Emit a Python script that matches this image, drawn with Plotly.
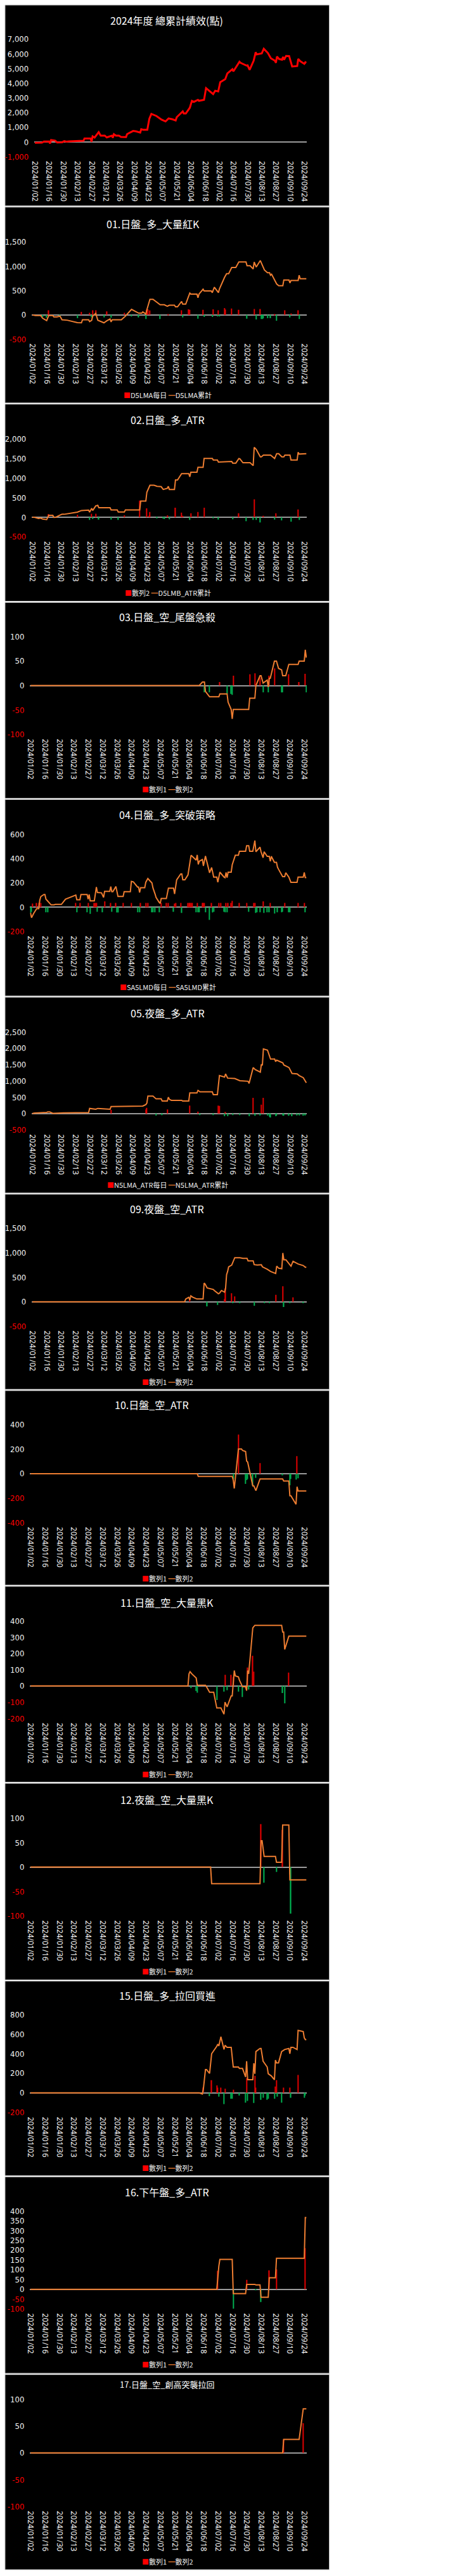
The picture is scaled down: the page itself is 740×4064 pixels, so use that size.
import plotly.graph_objects as go

W, H = 740, 4064
DAY_MS = 86400000

# ---------------- tick labels ----------------
TICK_DATES = ["2024-01-02", "2024-01-16", "2024-01-30", "2024-02-13", "2024-02-27",
              "2024-03-12", "2024-03-26", "2024-04-09", "2024-04-23", "2024-05-07",
              "2024-05-21", "2024-06-04", "2024-06-18", "2024-07-02", "2024-07-16",
              "2024-07-30", "2024-08-13", "2024-08-27", "2024-09-10", "2024-09-24"]
TICK_TEXT = [d.replace("-", "/") for d in TICK_DATES]

# ---------------- data (MM-DD, value) ----------------
P0_LINE = [("01-02", -60), ("01-09", -50), ("01-11", 30), ("01-16", 30), ("01-17", -100), ("01-18", 130),
           ("01-22", 90), ("01-24", -30), ("01-29", -20), ("01-31", 60), ("02-02", 20), ("02-05", 40),
           ("02-19", 80), ("02-20", 230), ("02-26", 230), ("02-27", 20), ("02-28", 380), ("03-01", 300),
           ("03-05", 670), ("03-07", 430), ("03-11", 430), ("03-13", 310), ("03-18", 430), ("03-19", 290),
           ("03-20", 530), ("03-22", 430), ("03-25", 430), ("03-27", 340), ("04-01", 330), ("04-02", 530),
           ("04-03", 570), ("04-08", 750), ("04-11", 720), ("04-15", 640), ("04-16", 870), ("04-18", 830),
           ("04-22", 830), ("04-24", 1580), ("04-26", 1910), ("05-01", 1770), ("05-06", 1520), ("05-10", 1400),
           ("05-13", 1600), ("05-17", 1540), ("05-20", 1460), ("05-21", 1680), ("05-27", 2080), ("05-28", 1940),
           ("05-30", 1940), ("06-03", 2330), ("06-05", 2800), ("06-07", 2730), ("06-11", 2870), ("06-12", 2800),
           ("06-17", 2870), ("06-19", 3660), ("06-26", 3260), ("06-28", 3490), ("07-01", 3440), ("07-03", 4070),
           ("07-08", 4280), ("07-10", 4670), ("07-15", 4960), ("07-16", 4810), ("07-22", 5460), ("07-23", 5390),
           ("07-29", 5200), ("07-30", 5220), ("08-01", 4910), ("08-05", 5530), ("08-07", 6110), ("08-08", 5960),
           ("08-13", 6030), ("08-15", 6350), ("08-19", 6060), ("08-22", 5700), ("08-26", 5530), ("08-27", 5390),
           ("08-28", 5820), ("08-30", 5650), ("09-02", 5600), ("09-03", 5790), ("09-04", 5600), ("09-06", 5860),
           ("09-09", 5850), ("09-12", 5140), ("09-17", 5170), ("09-18", 5650), ("09-20", 5500), ("09-23", 5390),
           ("09-24", 5320), ("09-25", 5430), ("09-26", 5390)]

P1_LINE = [("01-02", 0), ("01-05", -13), ("01-10", -13), ("01-12", -69), ("01-16", -120), ("01-18", -13),
           ("01-22", -13), ("01-23", -43), ("01-26", -43), ("01-29", -26), ("01-31", -103), ("02-02", -103),
           ("02-05", -110), ("02-15", -160), ("02-19", -164), ("02-20", -103), ("02-26", -103), ("02-27", -138),
           ("02-29", -112), ("03-01", -26), ("03-04", 30), ("03-06", -112), ("03-12", -164), ("03-15", -120),
           ("03-18", -86), ("03-19", -146), ("03-20", -103), ("03-29", -103), ("04-02", -26), ("04-08", 112),
           ("04-11", 82), ("04-15", 34), ("04-18", 34), ("04-19", 60), ("04-22", 17), ("04-23", 103),
           ("04-26", 319), ("04-29", 319), ("05-06", 207), ("05-10", 207), ("05-13", 177), ("05-15", 198),
           ("05-20", 198), ("05-21", 164), ("05-23", 164), ("05-27", 276), ("05-28", 220), ("05-31", 220),
           ("06-04", 448), ("06-05", 427), ("06-11", 427), ("06-12", 353), ("06-13", 427), ("06-17", 526),
           ("06-18", 491), ("06-25", 491), ("06-26", 457), ("06-28", 569), ("07-02", 457), ("07-03", 534),
           ("07-08", 771), ("07-10", 845), ("07-12", 845), ("07-15", 974), ("07-19", 974), ("07-22", 1086),
           ("07-29", 1086), ("07-30", 1009), ("08-02", 1009), ("08-05", 944), ("08-06", 1086), ("08-08", 983),
           ("08-12", 1116), ("08-16", 922), ("08-19", 866), ("08-21", 866), ("08-22", 815), ("08-23", 836),
           ("08-28", 634), ("08-30", 599), ("09-03", 599), ("09-04", 715), ("09-09", 715), ("09-10", 655),
           ("09-11", 707), ("09-18", 707), ("09-19", 815), ("09-20", 741), ("09-26", 741)]
P1_BARS = [("01-18", 95), ("02-19", 60), ("02-27", 40), ("03-01", 95), ("03-04", 95), ("03-15", 70),
           ("04-01", 43), ("04-23", 103), ("04-24", 112), ("04-26", 90), ("05-14", 17), ("05-27", 95),
           ("06-03", 112), ("06-04", 103), ("06-17", 103), ("06-27", 112), ("07-02", 95), ("07-08", 138),
           ("07-09", 110), ("07-15", 129), ("07-22", 103), ("08-06", 121), ("08-12", 121), ("08-26", 17),
           ("09-05", 95), ("09-11", 30), ("09-18", 95),
           ("01-12", -47), ("01-16", -60), ("01-29", -20), ("02-15", -69), ("02-29", -50), ("03-12", -52),
           ("03-19", -60), ("04-08", -35), ("04-15", -52), ("04-22", -86), ("05-06", -86), ("05-28", -52),
           ("06-12", -78), ("06-18", -43), ("06-26", -43), ("07-01", -35), ("07-03", -35), ("07-30", -78),
           ("08-08", -95), ("08-13", -86), ("08-14", -86), ("08-15", -69), ("08-19", -69), ("08-22", -69),
           ("08-28", -120), ("09-10", -52), ("09-19", -86)]

P2_LINE = [("01-02", 0), ("01-04", 0), ("01-08", -32), ("01-10", -20), ("01-12", -43), ("01-16", -59),
           ("01-18", 48), ("01-22", 48), ("01-23", -5), ("01-25", 0), ("01-29", 54), ("01-31", 75),
           ("02-02", 75), ("02-15", 129), ("02-19", 172), ("02-26", 183), ("02-27", 129), ("02-29", 226),
           ("03-01", 172), ("03-04", 290), ("03-06", 306), ("03-07", 242), ("03-18", 242), ("03-19", 188),
           ("03-25", 188), ("03-26", 134), ("04-01", 134), ("04-02", 188), ("04-16", 188), ("04-17", 414),
           ("04-22", 414), ("04-23", 640), ("04-26", 817), ("04-30", 817), ("05-03", 790), ("05-07", 780),
           ("05-09", 710), ("05-13", 737), ("05-14", 790), ("05-15", 710), ("05-20", 710), ("05-21", 950),
           ("05-23", 950), ("05-27", 1113), ("06-03", 1113), ("06-04", 1032), ("06-05", 1150), ("06-11", 1150),
           ("06-12", 1274), ("06-17", 1274), ("06-18", 1500), ("06-26", 1500), ("06-27", 1462), ("07-01", 1462),
           ("07-02", 1409), ("07-15", 1425), ("07-16", 1382), ("07-19", 1382), ("07-22", 1500), ("07-23", 1490),
           ("07-26", 1392), ("08-02", 1392), ("08-05", 1317), ("08-06", 1785), ("08-08", 1731), ("08-09", 1677),
           ("08-12", 1543), ("08-13", 1543), ("08-15", 1586), ("08-22", 1586), ("08-26", 1500), ("08-28", 1624),
           ("08-30", 1624), ("09-02", 1543), ("09-04", 1543), ("09-05", 1586), ("09-10", 1586), ("09-11", 1462),
           ("09-17", 1462), ("09-18", 1661), ("09-19", 1613), ("09-26", 1624)]
P2_BARS = [("01-18", 80), ("02-15", 65), ("02-29", 90), ("03-04", 90), ("04-01", 48), ("04-16", 425),
           ("04-23", 226), ("04-25", 38), ("04-26", 134), ("05-13", 48), ("05-21", 242), ("05-27", 118),
           ("05-28", 38), ("06-05", 102), ("06-12", 134), ("06-18", 242), ("07-22", 102), ("08-06", 457),
           ("08-15", 38), ("08-27", 102), ("09-18", 199),
           ("02-27", -70), ("03-01", -43), ("03-07", -59), ("03-19", -59), ("03-26", -70), ("05-03", -27),
           ("05-09", -32), ("05-10", -43), ("05-15", -54), ("06-04", -70), ("06-27", -27), ("07-02", -59),
           ("07-16", -54), ("07-29", -102), ("08-05", -70), ("08-08", -70), ("08-12", -134), ("08-26", -59),
           ("09-02", -80), ("09-11", -113), ("09-19", -70)]

P3_LINE = [("01-02", 0), ("06-14", 0), ("06-17", 7), ("06-19", 7), ("06-20", -12), ("06-24", -23),
           ("07-03", -23), ("07-04", -17), ("07-11", -17), ("07-12", -34), ("07-15", -49), ("07-16", -68),
           ("07-17", -49), ("08-01", -49), ("08-02", -26), ("08-07", -26), ("08-08", 0), ("08-12", 20),
           ("08-13", 20), ("08-15", 5), ("08-19", 11), ("08-20", -3), ("08-21", 15), ("08-22", 15),
           ("08-26", 50), ("08-28", 50), ("08-30", 35), ("09-02", 32), ("09-03", 20), ("09-06", 20),
           ("09-09", 43), ("09-18", 43), ("09-19", 50), ("09-24", 50), ("09-25", 73), ("09-26", 57)]
P3_BARS = [("07-04", 7), ("07-17", 20), ("08-02", 23), ("08-07", 25), ("08-12", 16), ("08-21", 20),
           ("08-26", 35), ("09-09", 23), ("09-19", 7), ("09-25", 24),
           ("06-19", -14), ("06-24", -14), ("07-11", -17), ("07-15", -17), ("07-16", -19), ("08-15", -14),
           ("08-20", -14), ("09-02", -14), ("09-03", -14), ("09-26", -14)]

P4_LINE = [("01-02", -47), ("01-03", -87), ("01-05", -52), ("01-07", -24), ("01-08", -12), ("01-10", -12),
           ("01-11", 57), ("01-12", 87), ("01-15", 104), ("01-16", 104), ("01-17", 66), ("01-18", 57),
           ("01-22", 19), ("01-25", 19), ("01-26", 23), ("02-01", 23), ("02-05", 66), ("02-15", 100),
           ("02-16", 61), ("02-19", 61), ("02-20", 104), ("02-26", 104), ("02-27", 66), ("02-28", 104),
           ("02-29", 52), ("03-04", 52), ("03-06", 166), ("03-07", 121), ("03-11", 118), ("03-13", 80),
           ("03-14", 130), ("03-19", 130), ("03-20", 170), ("03-21", 127), ("03-22", 127), ("03-25", 170),
           ("03-27", 88), ("04-01", 88), ("04-02", 127), ("04-08", 127), ("04-09", 212), ("04-11", 208),
           ("04-15", 166), ("04-16", 166), ("04-17", 121), ("04-18", 160), ("04-22", 160), ("04-23", 205),
           ("04-25", 236), ("04-29", 199), ("04-30", 158), ("05-02", 109), ("05-03", 80), ("05-06", 40),
           ("05-07", 31), ("05-08", 71), ("05-13", 71), ("05-14", 114), ("05-15", 156), ("05-20", 156),
           ("05-21", 109), ("05-23", 225), ("05-27", 274), ("05-28", 274), ("05-29", 225), ("05-31", 225),
           ("06-03", 265), ("06-06", 427), ("06-11", 387), ("06-12", 430), ("06-13", 352), ("06-14", 378),
           ("06-17", 392), ("06-18", 340), ("06-20", 421), ("06-24", 283), ("06-26", 326), ("06-28", 248),
           ("07-01", 248), ("07-02", 205), ("07-04", 288), ("07-08", 248), ("07-09", 243), ("07-10", 286),
           ("07-11", 243), ("07-12", 288), ("07-15", 288), ("07-16", 349), ("07-19", 427), ("07-22", 427),
           ("07-23", 460), ("07-29", 460), ("07-30", 505), ("08-01", 505), ("08-02", 460), ("08-05", 460),
           ("08-07", 548), ("08-08", 456), ("08-12", 494), ("08-13", 456), ("08-15", 407), ("08-16", 456),
           ("08-19", 418), ("08-21", 418), ("08-22", 378), ("08-23", 418), ("08-26", 369), ("08-28", 369),
           ("08-29", 329), ("08-30", 312), ("09-03", 251), ("09-05", 251), ("09-06", 283), ("09-09", 248),
           ("09-11", 205), ("09-17", 205), ("09-18", 248), ("09-23", 248), ("09-24", 286), ("09-25", 243),
           ("09-26", 243)]
P4_BARS = [("01-04", 30), ("01-08", 35), ("01-10", 35), ("01-12", 35), ("02-15", 35), ("02-19", 35),
           ("02-27", 35), ("03-04", 35), ("03-05", 35), ("03-06", 35), ("03-14", 48), ("03-20", 35),
           ("03-25", 35), ("04-01", 35), ("04-09", 35), ("04-18", 35), ("04-23", 35), ("04-25", 35),
           ("05-08", 35), ("05-13", 35), ("05-15", 35), ("05-21", 30), ("05-22", 35), ("05-27", 35),
           ("06-03", 35), ("06-04", 35), ("06-05", 35), ("06-06", 35), ("06-07", 35), ("06-12", 35),
           ("06-17", 35), ("06-18", 35), ("06-19", 35), ("06-26", 35), ("07-03", 35), ("07-05", 35),
           ("07-10", 35), ("07-12", 35), ("07-15", 35), ("07-16", 52), ("07-23", 35), ("07-30", 35),
           ("08-06", 35), ("08-07", 35), ("08-15", 48), ("08-22", 35), ("09-05", 35), ("09-18", 35),
           ("09-24", 35),
           ("01-02", -47), ("01-03", -38), ("01-17", -42), ("01-19", -42), ("02-16", -42), ("02-26", -42),
           ("02-29", -55), ("03-07", -38), ("03-12", -42), ("03-21", -38), ("03-26", -43), ("03-27", -43),
           ("04-15", -42), ("04-17", -42), ("04-29", -42), ("04-30", -42), ("05-02", -42), ("05-06", -42),
           ("05-20", -38), ("05-28", -47), ("06-11", -42), ("06-13", -42), ("06-14", -42), ("06-20", -42),
           ("06-24", -104), ("06-27", -43), ("06-28", -38), ("07-08", -38), ("07-09", -42), ("07-11", -42),
           ("08-01", -38), ("08-08", -47), ("08-09", -42), ("08-12", -42), ("08-16", -47), ("08-19", -42),
           ("08-21", -42), ("08-26", -52), ("08-29", -42), ("09-02", -42), ("09-03", -38), ("09-09", -42),
           ("09-10", -42), ("09-25", -42)]

P5_LINE = [("01-02", 0), ("01-04", 13), ("01-16", 32), ("01-17", 45), ("01-19", 45), ("01-22", 6),
           ("02-01", 19), ("02-26", 26), ("02-27", 156), ("03-04", 130), ("03-06", 156), ("03-18", 130),
           ("03-19", 214), ("04-03", 221), ("04-19", 227), ("04-22", 273), ("04-23", 318), ("04-24", 532),
           ("04-29", 532), ("05-02", 448), ("05-07", 448), ("05-08", 383), ("05-13", 383), ("05-14", 500),
           ("05-15", 435), ("05-17", 403), ("05-27", 403), ("05-28", 383), ("06-03", 383), ("06-04", 630),
           ("06-11", 630), ("06-12", 708), ("06-14", 662), ("06-26", 662), ("06-27", 578), ("07-01", 578),
           ("07-03", 1162), ("07-08", 1117), ("07-09", 1214), ("07-11", 1084), ("07-18", 1071), ("07-23", 1006),
           ("07-31", 987), ("08-01", 922), ("08-05", 1409), ("08-07", 1344), ("08-12", 1266), ("08-13", 1507),
           ("08-14", 1474), ("08-15", 1981), ("08-19", 1942), ("08-22", 1669), ("08-26", 1669), ("08-27", 1591),
           ("08-28", 1636), ("09-03", 1552), ("09-04", 1487), ("09-09", 1409), ("09-12", 1227), ("09-17", 1214),
           ("09-19", 1162), ("09-23", 1097), ("09-25", 987), ("09-26", 942)]
P5_BARS = [("03-19", 110), ("04-22", 123), ("04-23", 175), ("05-13", 123), ("06-04", 240), ("06-12", 58),
           ("07-02", 240), ("07-03", 230), ("07-09", 45), ("08-05", 480), ("08-13", 273), ("08-15", 480),
           ("05-02", -65), ("05-08", -52), ("06-14", -52), ("06-27", -52), ("07-08", -84), ("07-11", -84),
           ("07-16", -52), ("07-23", -52), ("08-01", -84), ("08-07", -71), ("08-12", -58), ("08-19", -65),
           ("08-21", -97), ("08-22", -123), ("08-27", -84), ("08-28", -58), ("09-03", -58), ("09-04", -71),
           ("09-09", -71), ("09-12", -84), ("09-17", -58), ("09-19", -58), ("09-23", -71), ("09-25", -58)]

P6_LINE = [("01-02", 0), ("05-30", 0), ("05-31", 56), ("06-03", 91), ("06-04", 35), ("06-05", 121),
           ("06-07", 91), ("06-11", 56), ("06-17", 56), ("06-18", 381), ("06-19", 359), ("06-21", 281),
           ("06-27", 251), ("06-28", 229), ("07-02", 164), ("07-03", 173), ("07-05", 229), ("07-08", 195),
           ("07-09", 273), ("07-10", 554), ("07-11", 619), ("07-12", 714), ("07-15", 749), ("07-18", 900),
           ("07-23", 900), ("07-26", 887), ("07-30", 887), ("07-31", 835), ("08-05", 835), ("08-06", 757),
           ("08-09", 749), ("08-13", 757), ("08-14", 714), ("08-19", 662), ("08-22", 619), ("08-26", 576),
           ("08-27", 576), ("08-28", 727), ("08-30", 684), ("09-02", 675), ("09-03", 996), ("09-04", 857),
           ("09-06", 857), ("09-11", 727), ("09-13", 827), ("09-18", 771), ("09-23", 740), ("09-25", 706),
           ("09-26", 706)]
P6_BARS = [("06-04", 56), ("07-08", 56), ("07-09", 273), ("07-15", 173), ("07-18", 108), ("08-27", 143),
           ("09-03", 316), ("09-13", 91),
           ("06-21", -95), ("07-01", -65), ("07-16", -30), ("07-23", -30), ("08-06", -82), ("08-16", -30),
           ("08-21", -30), ("09-04", -108), ("09-10", -30), ("09-23", -30)]

P7_LINE = [("01-02", 0), ("06-12", 0), ("06-13", -22), ("07-16", -22), ("07-17", -52), ("07-18", -121),
           ("07-22", 202), ("07-25", 202), ("07-26", 190), ("07-29", 181), ("07-30", 103), ("07-31", 95),
           ("08-05", -100), ("08-06", -100), ("08-08", -138), ("08-12", -43), ("09-03", -43), ("09-04", -60),
           ("09-09", -60), ("09-10", -181), ("09-11", -181), ("09-16", -250), ("09-17", -107), ("09-18", -141),
           ("09-26", -141)]
P7_BARS = [("07-22", 319), ("08-12", 86), ("09-17", 143),
           ("07-17", -43), ("07-29", -83), ("07-30", -52), ("07-31", -43), ("08-05", -95), ("08-08", -34),
           ("09-03", -14), ("09-10", -95), ("09-11", -43), ("09-16", -48), ("09-18", -38)]

P8_LINE = [("01-02", 0), ("06-03", 0), ("06-04", 75), ("06-05", 88), ("06-07", 73), ("06-11", 49),
           ("06-12", 4), ("06-20", 4), ("06-21", -5), ("06-24", -39), ("06-28", -39), ("07-01", -136),
           ("07-05", -136), ("07-08", -174), ("07-09", -100), ("07-11", -129), ("07-15", -61), ("07-16", -61),
           ("07-18", 95), ("07-19", 62), ("07-22", 56), ("07-23", 36), ("07-26", -5), ("07-29", -5),
           ("07-30", -29), ("07-31", 95), ("08-01", 75), ("08-05", 359), ("08-07", 374), ("09-02", 374),
           ("09-03", 333), ("09-04", 333), ("09-05", 225), ("09-09", 307), ("09-26", 307)]
P8_BARS = [("07-09", 69), ("07-15", 69), ("07-17", 56), ("07-31", 114), ("08-05", 186), ("08-06", 88),
           ("09-09", 82),
           ("06-06", -13), ("06-11", -31), ("06-12", -42), ("07-01", -87), ("07-08", -35), ("07-11", -26),
           ("07-22", -35), ("07-26", -68), ("08-01", -22), ("09-03", -44), ("09-05", -107)]

P9_LINE = [("01-02", 0), ("06-25", 0), ("06-26", -34), ("08-12", -34), ("08-13", 54), ("08-14", 54),
           ("08-16", 22), ("08-27", 22), ("08-28", 10), ("09-02", 10), ("09-03", 86), ("09-09", 86),
           ("09-10", -26), ("09-26", -26)]
P9_BARS = [("08-13", 88), ("09-03", 76), ("08-16", -32), ("08-28", -10), ("09-10", -15), ("09-11", -95)]

P10_LINE = [("01-02", 0), ("06-14", 0), ("06-17", -12), ("06-18", 43), ("06-20", 238), ("06-21", 238),
            ("06-24", 199), ("06-26", 400), ("07-01", 476), ("07-02", 497), ("07-03", 480), ("07-05", 573),
            ("07-08", 443), ("07-09", 486), ("07-11", 465), ("07-15", 465), ("07-17", 264), ("07-22", 264),
            ("07-23", 249), ("07-26", 249), ("07-29", 162), ("07-30", 324), ("07-31", 134), ("08-05", 134),
            ("08-06", 303), ("08-07", 195), ("08-08", 422), ("08-12", 454), ("08-13", 454), ("08-15", 324),
            ("08-19", 264), ("08-20", 195), ("08-23", 173), ("08-26", 134), ("08-27", 335), ("08-28", 307),
            ("08-30", 307), ("09-02", 422), ("09-05", 443), ("09-09", 454), ("09-10", 400), ("09-11", 465),
            ("09-13", 465), ("09-17", 443), ("09-18", 638), ("09-23", 627), ("09-24", 562), ("09-25", 545),
            ("09-26", 545)]
P10_BARS = [("06-18", 54), ("06-26", 130), ("07-01", 76), ("07-02", 54), ("07-05", 54), ("07-09", 43),
            ("07-17", 32), ("07-30", 151), ("08-07", 173), ("08-08", 54), ("08-27", 65), ("08-28", 130),
            ("09-04", 54), ("09-10", 54), ("09-18", 184),
            ("06-24", -34), ("07-03", -38), ("07-08", -114), ("07-15", -60), ("07-16", -60), ("07-23", -28),
            ("07-29", -100), ("07-31", -82), ("08-06", -103), ("08-13", -71), ("08-15", -50), ("08-19", -71),
            ("08-20", -60), ("08-26", -60), ("08-29", -39), ("09-02", -100), ("09-11", -50), ("09-24", -50),
            ("09-25", -28)]

P11_LINE = [("01-02", 0), ("07-01", 0), ("07-03", 118), ("07-04", 153), ("07-16", 153), ("07-17", -22),
            ("07-29", -22), ("07-30", 25), ("08-07", 25), ("08-08", 22), ("08-12", 22), ("08-13", -41),
            ("08-20", -41), ("08-21", 59), ("08-27", 59), ("08-28", 158), ("09-24", 158), ("09-25", 366),
            ("09-26", 366)]
P11_BARS = [("07-02", 94), ("07-30", 48), ("08-21", 97), ("08-28", 102), ("09-25", 210),
            ("07-17", -100), ("08-08", -5), ("08-13", -65)]

P12_LINE = [("01-02", 0), ("09-03", 0), ("09-04", 25), ("09-19", 25), ("09-23", 82), ("09-26", 82)]
P12_BARS = [("09-04", 25), ("09-23", 55)]

# y tick values per panel
YT0 = [-1000, 0, 1000, 2000, 3000, 4000, 5000, 6000, 7000]
YT1 = [-500, 0, 500, 1000, 1500]
YT2 = [-500, 0, 500, 1000, 1500, 2000]
YT3 = [-100, -50, 0, 50, 100]
YT4 = [-200, 0, 200, 400, 600]
YT5 = [-500, 0, 500, 1000, 1500, 2000, 2500]
YT6 = [-500, 0, 500, 1000, 1500]
YT7 = [-400, -200, 0, 200, 400]
YT8 = [-200, -100, 0, 100, 200, 300, 400]
YT9 = [-100, -50, 0, 50, 100]
YT10 = [-200, 0, 200, 400, 600, 800]
YT11 = [-100, -50, 0, 50, 100, 150, 200, 250, 300, 350, 400]
YT12 = [-100, -50, 0, 50, 100]

TITLES = ["2024年度 總累計績效(點)", "01.日盤_多_大量紅K", "02.日盤_多_ATR", "03.日盤_空_尾盤急殺",
          "04.日盤_多_突破策略", "05.夜盤_多_ATR", "09.夜盤_空_ATR", "10.日盤_空_ATR", "11.日盤_空_大量黑K",
          "12.夜盤_空_大量黑K", "15.日盤_多_拉回買進", "16.下午盤_多_ATR", "17.日盤_空_創高突襲拉回"]
LEGENDS = [None, ("D5LMA每日", "D5LMA累計"), ("數列2", "D5LMB_ATR累計"), ("數列1", "數列2"),
           ("SA5LMD每日", "SA5LMD累計"), ("N5LMA_ATR每日", "N5LMA_ATR累計"), ("數列1", "數列2"),
           ("數列1", "數列2"), ("數列1", "數列2"), ("數列1", "數列2"), ("數列1", "數列2"),
           ("數列1", "數列2"), ("數列1", "數列2")]

LINES = [P0_LINE, P1_LINE, P2_LINE, P3_LINE, P4_LINE, P5_LINE, P6_LINE, P7_LINE, P8_LINE,
         P9_LINE, P10_LINE, P11_LINE, P12_LINE]
BARS = [None, P1_BARS, P2_BARS, P3_BARS, P4_BARS, P5_BARS, P6_BARS, P7_BARS, P8_BARS,
        P9_BARS, P10_BARS, P11_BARS, P12_BARS]
YTICKS = [YT0, YT1, YT2, YT3, YT4, YT5, YT6, YT7, YT8, YT9, YT10, YT11, YT12]

# ---------------- layout geometry (pixels) ----------------
# (panel top, panel bottom, title y, plot top, plot bottom, plot left, legend y, title x)
GEOM = [
    (0, 320, 25, 55, 241, 48, None, 260),
    (320, 632, 347, 376, 530, 44, 618, 238),
    (632, 946, 657, 688, 843, 44, 931, 262),
    (946, 1258, 970, 1001, 1156, 41, 1243, 261),
    (1258, 1571, 1283, 1314, 1468, 41, 1556, 261),
    (1571, 1883, 1597, 1627, 1782, 44, 1869, 262),
    (1883, 2194, 1907, 1938, 2093, 44, 2181, 261),
    (2194, 2504, 2217, 2249, 2404, 41, 2492, 236),
    (2504, 2816, 2530, 2560, 2714, 41, 2802, 261),
    (2816, 3129, 2842, 2872, 3027, 41, 3114, 261),
    (3129, 3439, 3153, 3183, 3338, 41, 3426, 261),
    (3439, 3752, 3464, 3494, 3649, 41, 3737, 261),
    (3752, 4063, 3768, 3792, 3962, 41, 4049, 261),
]
PLOT_RIGHT = 485
PANEL_RIGHT = 521

POS_COLOR = "#E00000"
NEG_COLOR = "#00B050"
LINE_COLOR = "#ED7D31"
TOTAL_COLOR = "#FF0000"
CJK = "Noto Sans CJK TC, Noto Sans CJK SC, sans-serif"
NARROW = "Liberation Sans Narrow, DejaVu Sans Condensed, Noto Sans, sans-serif"


def px_x(x):
    return x / W


def px_y(y):
    return 1 - y / H


def fmt_tick(v):
    s = f"{v:,}"
    if v < 0:
        return f'<span style="color:#FF0000">{s}</span>'
    return s


fig = go.Figure()
shapes, annotations = [], []
layout = {}

for i in range(len(GEOM)):
    top, bot, ty, ptop, pbot, pleft, ly, tx = GEOM[i]
    n = i + 1
    xa = "x" if n == 1 else f"x{n}"
    ya = "y" if n == 1 else f"y{n}"
    xkey = "xaxis" if n == 1 else f"xaxis{n}"
    ykey = "yaxis" if n == 1 else f"yaxis{n}"

    # panel background + border
    shapes.append(dict(type="rect", xref="paper", yref="paper", layer="below",
                       x0=px_x(1), x1=px_x(PANEL_RIGHT), y0=px_y(bot - 1), y1=px_y(top + 1),
                       fillcolor="black", line=dict(color="#BFBFBF", width=1)))

    bars = BARS[i]
    if bars:
        pos = [(d, v) for d, v in bars if v > 0]
        neg = [(d, v) for d, v in bars if v < 0]
        for grp, col in ((pos, POS_COLOR), (neg, NEG_COLOR)):
            fig.add_trace(go.Bar(x=["2024-" + d for d, _ in grp], y=[v for _, v in grp],
                                 width=DAY_MS * 0.8, marker=dict(color=col, line=dict(width=0)),
                                 xaxis=xa, yaxis=ya, showlegend=False, hoverinfo="skip"))
    line = LINES[i]
    fig.add_trace(go.Scatter(x=["2024-" + d for d, _ in line], y=[v for _, v in line],
                             mode="lines",
                             line=dict(color=TOTAL_COLOR if i == 0 else LINE_COLOR,
                                       width=3 if i == 0 else 2),
                             xaxis=xa, yaxis=ya, showlegend=False))

    yt = YTICKS[i]
    layout[xkey] = dict(domain=[px_x(pleft), px_x(PLOT_RIGHT)], anchor=ya, type="date",
                        range=["2024-01-01 12:00", "2024-09-26 12:00"],
                        tickmode="array", tickvals=TICK_DATES, ticktext=TICK_TEXT,
                        tickangle=90, ticks="", showgrid=False, zeroline=False, showline=False,
                        ticklabelstandoff=6,
                        tickfont=dict(color="#F2F2F2", size=12, family="Noto Sans, DejaVu Sans, sans-serif"))
    layout[ykey] = dict(domain=[px_y(pbot), px_y(ptop)], anchor=xa,
                        range=[yt[0], yt[-1]], tickmode="array", tickvals=yt,
                        ticktext=[fmt_tick(v) for v in yt], ticks="", showgrid=False,
                        showline=False, zeroline=True, zerolinecolor="#9A9A9A", zerolinewidth=1.5,
                        ticklabelstandoff=8,
                        tickfont=dict(color="#F2F2F2", size=13, family=NARROW))

    # title
    annotations.append(dict(xref="paper", yref="paper", x=px_x(tx), y=px_y(ty),
                            xanchor="center", yanchor="middle", showarrow=False,
                            text=TITLES[i],
                            font=dict(color="white", size=13 if i == 12 else 16, family=CJK)))
    # legend
    if LEGENDS[i]:
        bname, lname = LEGENDS[i]
        txt = (f'<span style="color:#FF0000">■</span>{bname} '
               f'<span style="color:{LINE_COLOR}">━</span>{lname}')
        annotations.append(dict(xref="paper", yref="paper", x=px_x(262), y=px_y(ly),
                                xanchor="center", yanchor="middle", showarrow=False,
                                text=txt, font=dict(color="#F2F2F2", size=11, family=CJK)))

fig.update_layout(**layout)
fig.update_layout(width=W, height=H, margin=dict(l=0, r=0, t=0, b=0),
                  paper_bgcolor="white", plot_bgcolor="rgba(0,0,0,0)",
                  barmode="overlay", showlegend=False,
                  shapes=shapes, annotations=annotations)

fig.write_html("out.html", config={"displayModeBar": False},
               post_script="document.body.style.margin='0';")
